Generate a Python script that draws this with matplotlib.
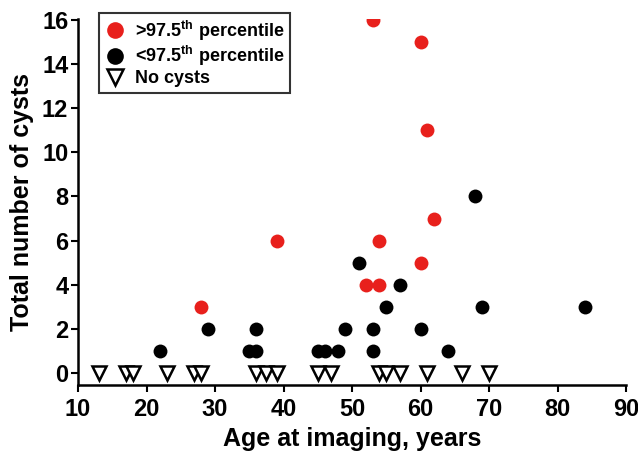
import matplotlib
matplotlib.use("Agg")
import matplotlib.pyplot as plt
from matplotlib.lines import Line2D

plt.rcParams['font.family'] = ['Liberation Sans', 'DejaVu Sans']
plt.rcParams['font.weight'] = 'bold'
plt.rcParams['mathtext.fontset'] = 'custom'
plt.rcParams['mathtext.rm'] = 'Liberation Sans:bold'
plt.rcParams['mathtext.bf'] = 'Liberation Sans:bold'

# Data
red_age = [28, 39, 52, 53, 54, 54, 60, 60, 61, 62]
red_cysts = [3, 6, 4, 16, 4, 6, 15, 5, 11, 7]
black_age = [22, 29, 35, 36, 36, 45, 46, 48, 49, 51, 53, 53, 55, 57, 60, 64, 68, 69, 84]
black_cysts = [1, 2, 1, 1, 2, 1, 1, 1, 2, 5, 1, 2, 3, 4, 2, 1, 8, 3, 3]
none_age = [13, 17, 18, 23, 27, 28, 36, 37.5, 39, 45, 47, 54, 55, 57, 61, 66, 70]
none_cysts = [0] * len(none_age)
x_ticks = [10, 20, 30, 40, 50, 60, 70, 80, 90]
y_ticks = [0, 2, 4, 6, 8, 10, 12, 14, 16]
labels = [r'>97.5$^{\mathbf{th}}$ percentile', r'<97.5$^{\mathbf{th}}$ percentile', 'No cysts']

fig = plt.figure(figsize=(6.38, 4.54), dpi=100)
ax = fig.add_axes([78/638, 1-385/454, (626-78)/638, (385-19)/454])

ax.plot(red_age, red_cysts, 'o', color='#e8201c', markersize=10, markeredgewidth=0, linestyle='none', zorder=3)
ax.plot(black_age, black_cysts, 'o', color='black', markersize=10, markeredgewidth=0, linestyle='none', zorder=3)
ax.plot(none_age, none_cysts, 'v', markerfacecolor='white', markeredgecolor='black', markersize=10,
        markeredgewidth=1.8, linestyle='none', zorder=3)

ax.set_xlim(10, 90)
ax.set_ylim(-0.55, 16.05)
ax.set_xticks(x_ticks)
ax.set_yticks(y_ticks)
ax.tick_params(axis='both', labelsize=17, width=1.5, length=5, direction='out')
ax.tick_params(axis='x', pad=4)
ax.tick_params(axis='y', pad=2)
for lbl in ax.get_xticklabels() + ax.get_yticklabels():
    lbl.set_fontweight('bold')
for s in ['top', 'right']:
    ax.spines[s].set_visible(False)
for s in ['left', 'bottom']:
    ax.spines[s].set_linewidth(1.8)

ax.set_xlabel('Age at imaging, years', fontsize=18, fontweight='bold', labelpad=5)
ax.set_ylabel('Total number of cysts', fontsize=18, fontweight='bold', labelpad=6)

handles = [
    Line2D([], [], marker='o', color='#e8201c', markersize=12, markeredgewidth=0, linestyle='none'),
    Line2D([], [], marker='o', color='black', markersize=12, markeredgewidth=0, linestyle='none'),
    Line2D([], [], marker='v', markerfacecolor='white', markeredgecolor='black', markersize=12,
           markeredgewidth=1.8, linestyle='none'),
]
leg = ax.legend(handles, labels, loc='upper left', bbox_to_anchor=(99/638, 1-13/454),
                bbox_transform=fig.transFigure, borderaxespad=0, frameon=True, fancybox=False,
                edgecolor='black', prop={'weight': 'bold', 'size': 13}, handletextpad=0.5,
                labelspacing=0.1, borderpad=0.3, handlelength=1.2)
leg.get_frame().set_linewidth(1.5)

fig.savefig('out.png', dpi=100)
